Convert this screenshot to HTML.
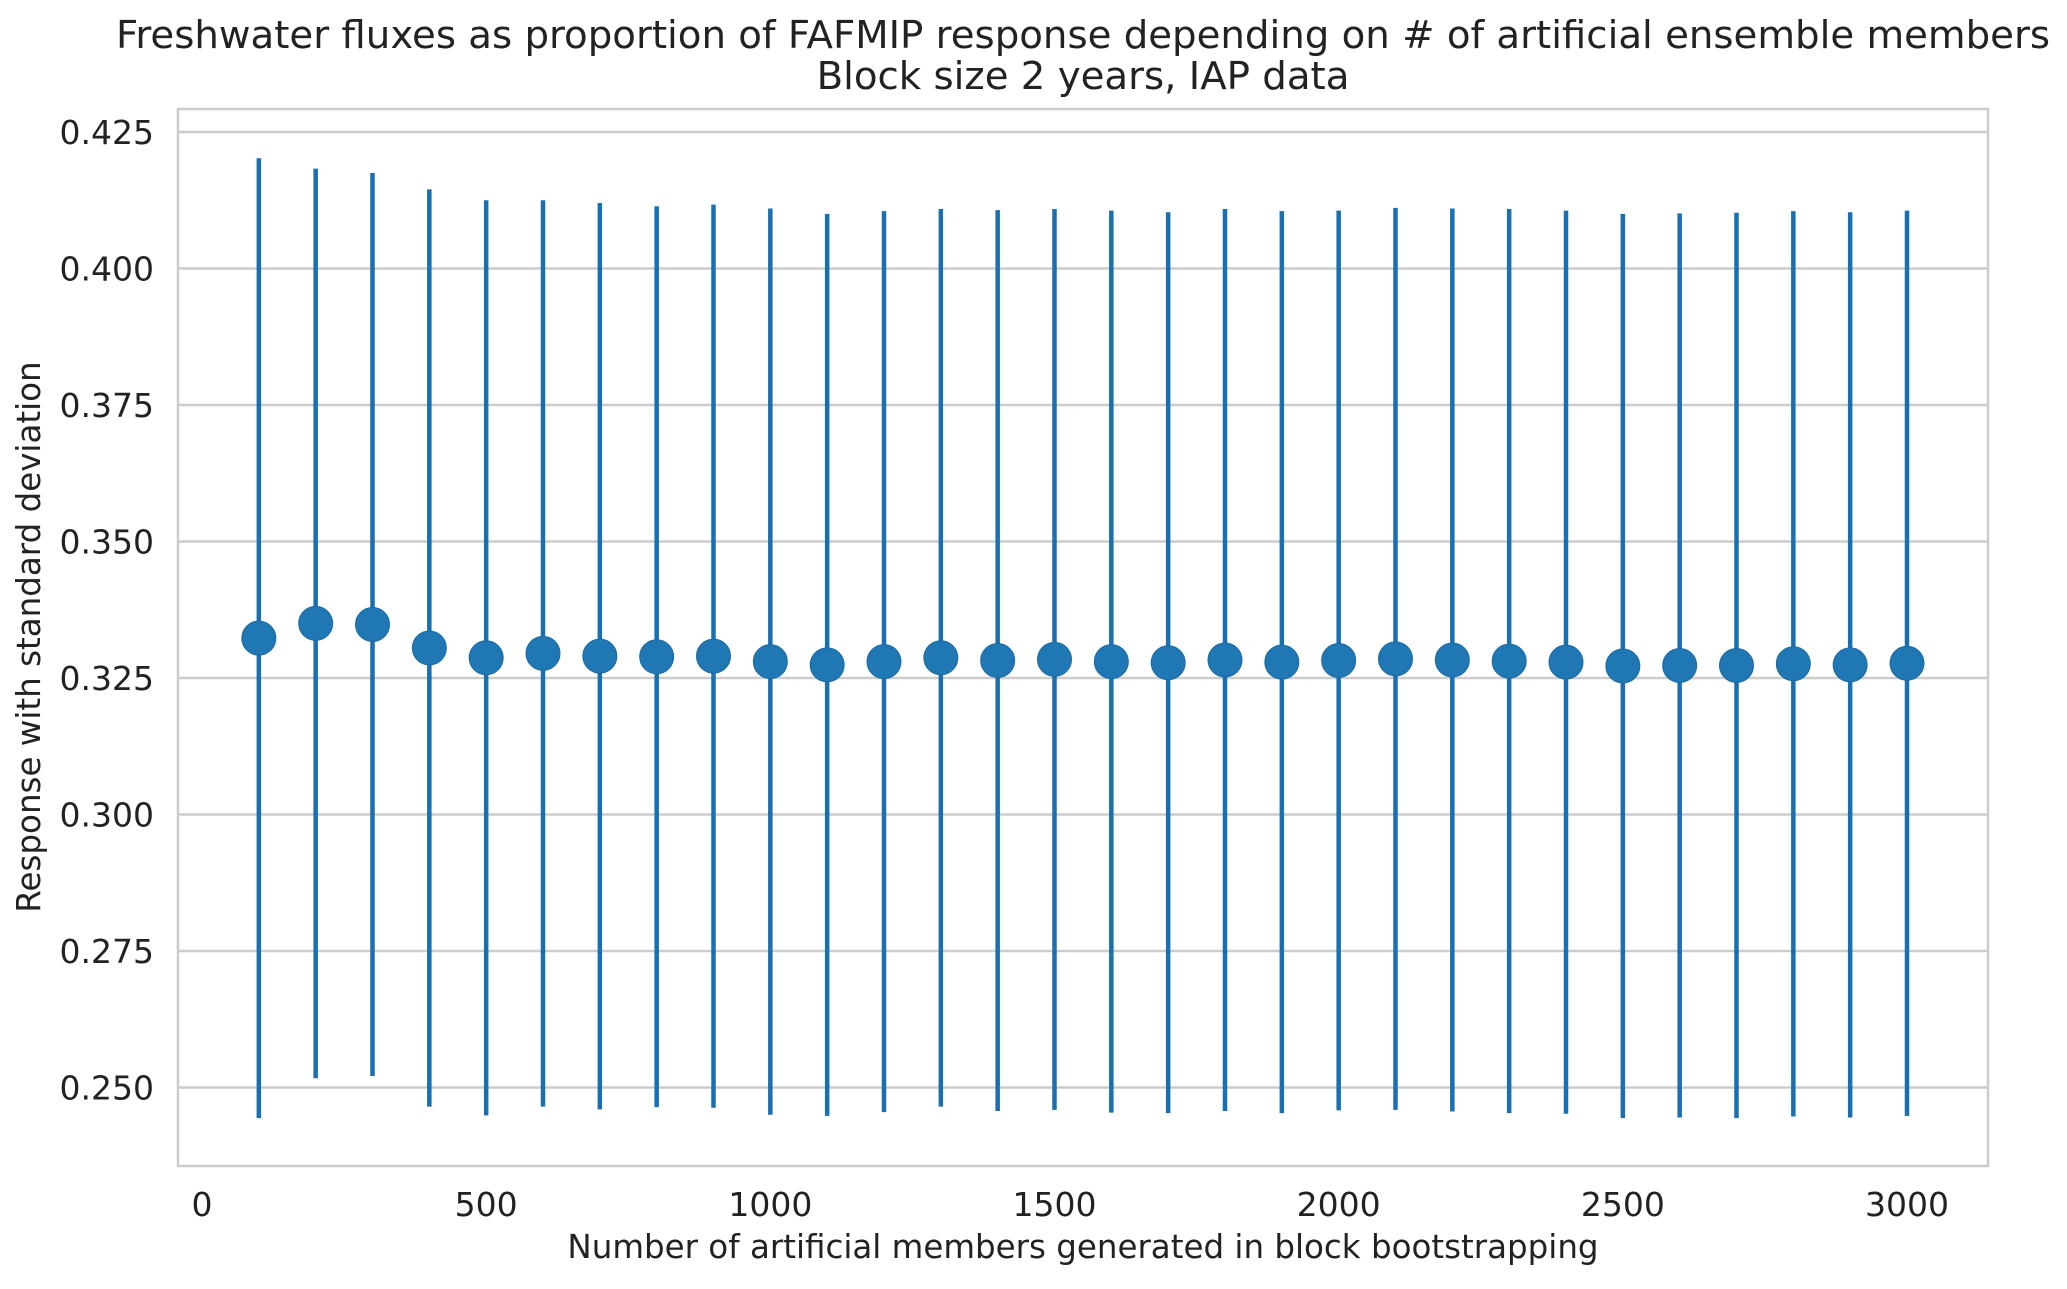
<!DOCTYPE html>
<html><head><meta charset="utf-8"><style>
html,body{margin:0;padding:0;background:#fff;}
svg text{font-family:"DejaVu Sans","Liberation Sans",sans-serif;fill:#222;}
</style></head><body>
<svg id="chart" width="2067" height="1284" xmlns="http://www.w3.org/2000/svg">
<text x="1083" y="48" font-size="38.7" text-anchor="middle">Freshwater fluxes as proportion of FAFMIP response depending on # of artificial ensemble members</text>
<text x="1083" y="89" font-size="38.7" text-anchor="middle">Block size 2 years, IAP data</text>
<g id="grid"></g>
<g id="marks"></g>
<rect x="178" y="109" width="1810" height="1057" fill="none" stroke="#cccccc" stroke-width="2.5"/>
<g id="ticks"></g>
<text x="1083" y="1258" font-size="32.5" text-anchor="middle">Number of artificial members generated in block bootstrapping</text>
<text x="0" y="0" font-size="32.5" text-anchor="middle" transform="translate(40,637) rotate(-90)">Response with standard deviation</text>
</svg>
<script>
const members=[100,200,300,400,500,600,700,800,900,1000,1100,1200,1300,1400,1500,1600,1700,1800,1900,2000,2100,2200,2300,2400,2500,2600,2700,2800,2900,3000];
const means=[0.3323,0.3350,0.3348,0.3305,0.3287,0.3295,0.3290,0.3289,0.3290,0.3280,0.3274,0.3280,0.3287,0.3282,0.3284,0.3280,0.3278,0.3283,0.3279,0.3282,0.3285,0.3283,0.3281,0.3279,0.3272,0.3273,0.3273,0.3276,0.3274,0.3277];
const stds=[0.0879,0.0833,0.0827,0.0840,0.0838,0.0830,0.0830,0.0825,0.0827,0.0830,0.0826,0.0825,0.0822,0.0825,0.0825,0.0826,0.0825,0.0826,0.0826,0.0824,0.0826,0.0827,0.0828,0.0827,0.0828,0.0828,0.0829,0.0829,0.0829,0.0829];
const yTicks=[0.250,0.275,0.300,0.325,0.350,0.375,0.400,0.425];
const xTicks=[0,500,1000,1500,2000,2500,3000];
const NS="http://www.w3.org/2000/svg";
function xs(v){return 202+(v-0)*(1907-202)/3000;}
function ys(v){return 132+(0.425-v)/0.025*136.5;}
function mk(tag,attrs,parent){const e=document.createElementNS(NS,tag);for(const k in attrs)e.setAttribute(k,attrs[k]);document.getElementById(parent).appendChild(e);return e;}
yTicks.forEach(t=>{
  const l=mk('line',{x1:178,x2:1988,y1:ys(t),y2:ys(t),stroke:'#cccccc','stroke-width':2.5},'grid');
  
  
  const tx=mk('text',{x:154,y:ys(t)+12,'font-size':33,'text-anchor':'end'},'ticks');
  tx.textContent=t.toFixed(3);
  
  
});
xTicks.forEach(t=>{
  const tx=mk('text',{x:xs(t),y:1216,'font-size':33,'text-anchor':'middle'},'ticks');
  tx.textContent=String(t);
  
  
});
members.forEach((m,i)=>{
  const b=mk('line',{x1:xs(m),x2:xs(m),y1:ys(means[i]+stds[i]),y2:ys(means[i]-stds[i]),stroke:'#1a6fb0','stroke-width':4.5},'marks');
  
  
});
members.forEach((m,i)=>{
  const c=mk('circle',{cx:xs(m),cy:ys(means[i]),r:17,fill:'#1f77b4',stroke:'#1a6aa6','stroke-width':1},'marks');
  
  
});
</script>
</body></html>
